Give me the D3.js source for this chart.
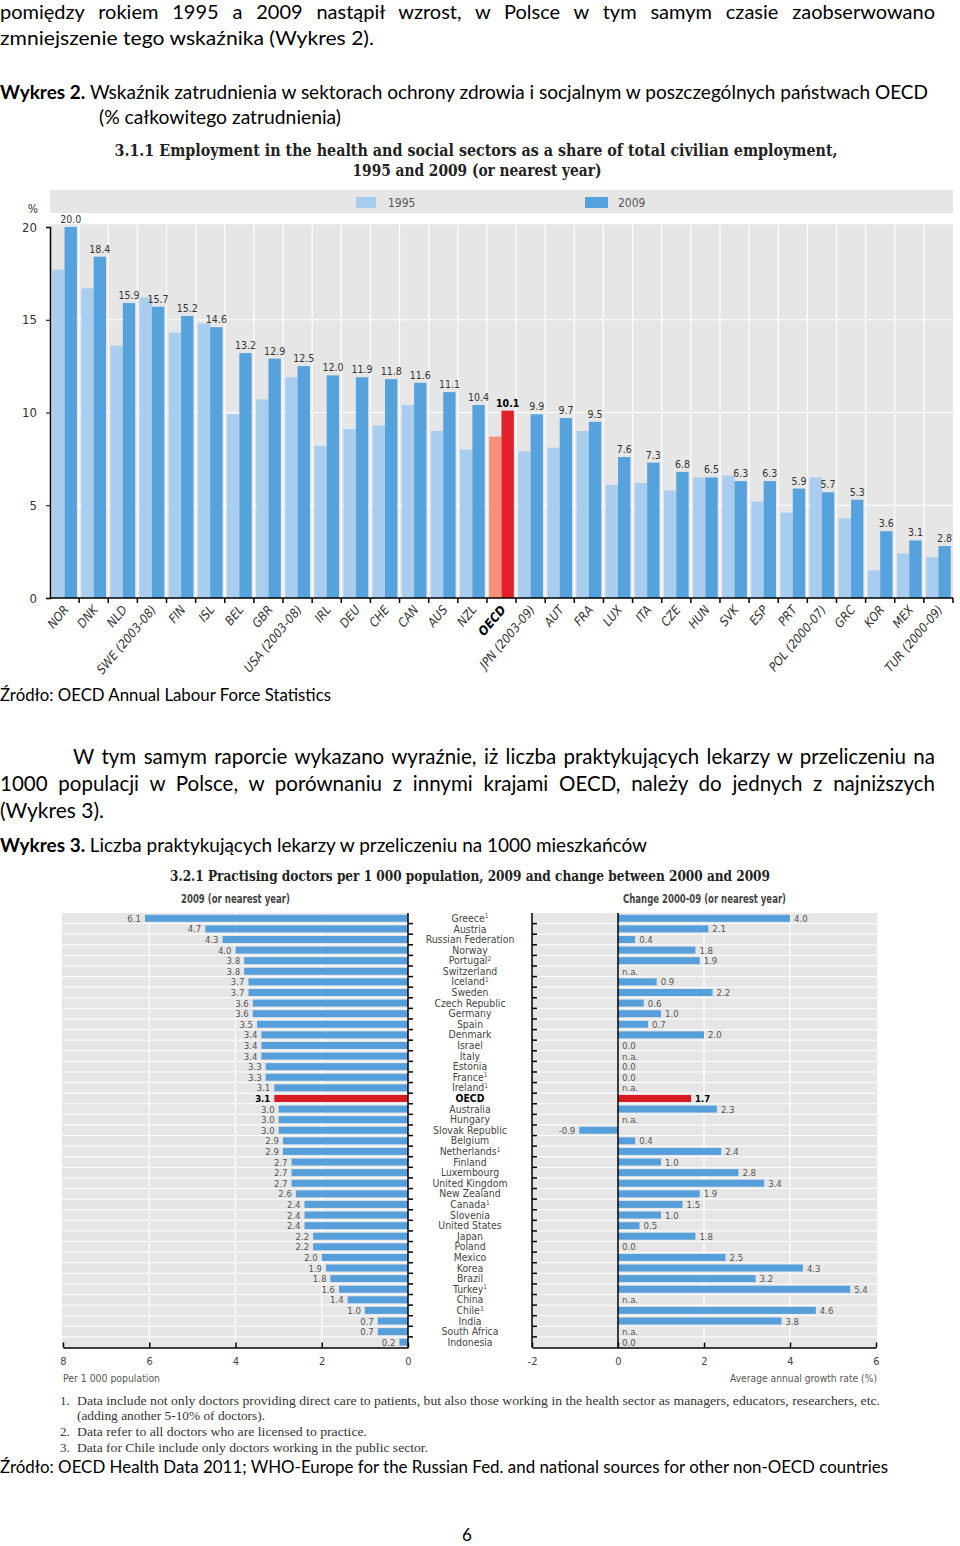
<!DOCTYPE html>
<html>
<head>
<meta charset="utf-8">
<script src="https://cdn.jsdelivr.net/npm/d3@7"></script>
<style>
  body { margin: 0; background: #fff; }
  svg { display: block; }
</style>
</head>
<body>
<svg id="page" width="960" height="1546"></svg>
<script>
// Wykres 2 data
const countries1 = ['NOR','DNK','NLD','SWE (2003-08)','FIN','ISL','BEL','GBR','USA (2003-08)','IRL','DEU','CHE','CAN','AUS','NZL','OECD','JPN (2003-09)','AUT','FRA','LUX','ITA','CZE','HUN','SVK','ESP','PRT','POL (2000-07)','GRC','KOR','MEX','TUR (2000-09)']
const emp1995 = [17.7,16.7,13.6,16.2,14.3,14.8,9.9,10.7,11.9,8.2,9.1,9.3,10.4,9.0,8.0,8.7,7.9,8.1,9.0,6.1,6.2,5.8,6.5,6.6,5.2,4.6,6.5,4.3,1.5,2.4,2.2]
const emp2009 = [20.0,18.4,15.9,15.7,15.2,14.6,13.2,12.9,12.5,12.0,11.9,11.8,11.6,11.1,10.4,10.1,9.9,9.7,9.5,7.6,7.3,6.8,6.5,6.3,6.3,5.9,5.7,5.3,3.6,3.1,2.8]
const empTicks = [0, 5, 10, 15, 20]

// Wykres 3 data
const docNames = ['Greece','Austria','Russian Federation','Norway','Portugal','Switzerland','Iceland','Sweden','Czech Republic','Germany','Spain','Denmark','Israel','Italy','Estonia','France','Ireland','OECD','Australia','Hungary','Slovak Republic','Belgium','Netherlands','Finland','Luxembourg','United Kingdom','New Zealand','Canada','Slovenia','United States','Japan','Poland','Mexico','Korea','Brazil','Turkey','China','Chile','India','South Africa','Indonesia']
const docNotes = { Greece: '1', Portugal: '2', Iceland: '1', France: '1', Ireland: '1', Netherlands: '1', Canada: '1', Turkey: '1', Chile: '3' }
const docs2009 = [6.1,4.7,4.3,4.0,3.8,3.8,3.7,3.7,3.6,3.6,3.5,3.4,3.4,3.4,3.3,3.3,3.1,3.1,3.0,3.0,3.0,2.9,2.9,2.7,2.7,2.7,2.6,2.4,2.4,2.4,2.2,2.2,2.0,1.9,1.8,1.6,1.4,1.0,0.7,0.7,0.2]
const docsGrowth = [4.0,2.1,0.4,1.8,1.9,null,0.9,2.2,0.6,1.0,0.7,2.0,0.0,null,0.0,0.0,null,1.7,2.3,null,-0.9,0.4,2.4,1.0,2.8,3.4,1.9,1.5,1.0,0.5,1.8,0.0,2.5,4.3,3.2,5.4,null,4.6,3.8,null,0.0]
const leftTicks = [8, 6, 4, 2, 0]
const rightTicks = [-2, 0, 2, 4, 6]

const body = "Lato, 'Open Sans', sans-serif"
const narrow = "'Liberation Sans Narrow', 'DejaVu Sans Condensed', 'Arial Narrow', sans-serif"
const serif = "'DejaVu Serif Condensed', 'Liberation Serif', serif"

const svg = d3.select('#page')

// text helper: parts = string or [[str, bold], ...]; w = width to fit
function put(str, x, y, o) {
  const t = svg.append('text').attr('x', x).attr('y', y)
    .style('font-family', o.font || body).style('font-size', o.size + 'px')
    .attr('fill', o.fill || '#000').attr('text-anchor', o.anchor || 'start')
  if (o.bold) t.style('font-weight', 'bold')
  if (o.italic) t.style('font-style', 'italic')
  const parts = typeof str === 'string' ? [[str, false]] : str
  parts.forEach(p => t.append('tspan').text(p[0]).style('font-weight', p[1] ? 'bold' : null))
  if (o.w) {
    const full = parts.map(p => p[0]).join('')
    const n = t.node().getComputedTextLength()
    const sp = (full.match(/ /g) || []).length
    if (o.justify && n < o.w && sp) t.style('word-spacing', (o.w - n) / sp + 'px')
    else t.attr('textLength', o.w).attr('lengthAdjust', 'spacingAndGlyphs')
  }
  return t
}

// page text
put('pomiędzy rokiem 1995 a 2009 nastąpił wzrost, w Polsce w tym samym czasie zaobserwowano', 0, 19, { size: 20, w: 935, justify: true })
put('zmniejszenie tego wskaźnika (Wykres 2).', 0, 45, { size: 20, w: 374 })
put([['Wykres 2. ', true], ['Wskaźnik zatrudnienia w sektorach ochrony zdrowia i socjalnym w poszczególnych państwach OECD', false]], 0, 99, { size: 19, w: 928 })
put('(% całkowitego zatrudnienia)', 99, 124, { size: 19, w: 242 })
put('Źródło: OECD Annual Labour Force Statistics', 0, 701, { size: 17.5, w: 331 })
put('W tym samym raporcie wykazano wyraźnie, iż liczba praktykujących lekarzy w przeliczeniu na', 73, 764, { size: 20.5, w: 862, justify: true })
put('1000 populacji w Polsce, w porównaniu z innymi krajami OECD, należy do jednych z najniższych', 0, 791, { size: 20.5, w: 935, justify: true })
put('(Wykres 3).', 0, 818, { size: 20.5, w: 104 })
put([['Wykres 3. ', true], ['Liczba praktykujących lekarzy w przeliczeniu na 1000 mieszkańców', false]], 0, 852, { size: 19, w: 647 })
put('Źródło: OECD Health Data 2011; WHO-Europe for the Russian Fed. and national sources for other non-OECD countries', 0, 1473, { size: 17.5, w: 888 })
put('6', 467, 1541, { size: 17, anchor: 'middle' })

// ---------- Wykres 2 ----------
put('3.1.1 Employment in the health and social sectors as a share of total civilian employment,', 476, 156, { font: serif, size: 16, bold: true, anchor: 'middle', w: 723, fill: '#222' })
put('1995 and 2009 (or nearest year)', 477, 176, { font: serif, size: 16, bold: true, anchor: 'middle', w: 249, fill: '#222' })

const c1995 = d => d === 'OECD' ? '#f5917b' : '#a9cdee'
const c2009 = d => d === 'OECD' ? '#e1202a' : '#55a2dd'

svg.append('rect').attr('x', 50).attr('y', 190).attr('width', 903).attr('height', 23).attr('fill', '#e6e6e6')
svg.append('rect').attr('x', 356).attr('y', 197).attr('width', 20).attr('height', 11).attr('fill', '#a9cdee')
put('1995', 388, 207, { font: narrow, size: 12, fill: '#555' })
svg.append('rect').attr('x', 585).attr('y', 197).attr('width', 23).attr('height', 11).attr('fill', '#55a2dd')
put('2009', 618, 207, { font: narrow, size: 12, fill: '#555' })

const x1 = d3.scaleBand().domain(countries1).range([50, 953])
const sub = d3.scaleBand().domain(['1995', '2009']).range([0, x1.bandwidth()]).paddingOuter(0.18)
const y1 = d3.scaleLinear().domain([0, 20]).range([598, 227])

svg.append('rect').attr('x', 50).attr('y', y1(20.15)).attr('width', 903).attr('height', y1(0) - y1(20.15)).attr('fill', '#e6e6e6')
svg.append('g').selectAll('line').data([5, 10, 15]).join('line')
  .attr('x1', 50).attr('x2', 953).attr('y1', d => y1(d)).attr('y2', d => y1(d))
  .attr('stroke', '#fff').attr('stroke-width', 1.2)
svg.append('g').selectAll('line').data(countries1.slice(1)).join('line')
  .attr('x1', d => x1(d)).attr('x2', d => x1(d)).attr('y1', y1(20.15)).attr('y2', y1(0))
  .attr('stroke', '#fff').attr('stroke-width', 1.2)

const groups = svg.append('g').selectAll('g').data(countries1).join('g')
  .attr('transform', d => 'translate(' + x1(d) + ',0)')
groups.append('rect')
  .attr('x', sub('1995')).attr('width', sub.bandwidth())
  .attr('y', (d, i) => y1(emp1995[i])).attr('height', (d, i) => y1(0) - y1(emp1995[i]))
  .attr('fill', c1995)
groups.append('rect')
  .attr('x', sub('2009')).attr('width', sub.bandwidth())
  .attr('y', (d, i) => y1(emp2009[i])).attr('height', (d, i) => y1(0) - y1(emp2009[i]))
  .attr('fill', c2009)
groups.append('text')
  .attr('x', sub('2009') + sub.bandwidth() / 2).attr('y', (d, i) => y1(emp2009[i]) - 4)
  .attr('text-anchor', 'middle')
  .style('font-family', narrow).style('font-size', '10.5px')
  .style('font-weight', d => d === 'OECD' ? 'bold' : null)
  .attr('fill', d => d === 'OECD' ? '#000' : '#333')
  .text((d, i) => d3.format('.1f')(emp2009[i]))

const yAxis = svg.append('g').attr('transform', 'translate(50,0)')
  .call(d3.axisLeft(y1).tickValues(empTicks).tickSize(4).tickPadding(9))
yAxis.select('.domain').attr('stroke', '#000').attr('stroke-width', 1.5)
yAxis.selectAll('text').style('font-family', narrow).style('font-size', '13px').attr('fill', '#333')
put('%', 33, 213, { font: narrow, size: 12, fill: '#333', anchor: 'middle' })

svg.append('line').attr('x1', 50).attr('x2', 953).attr('y1', y1(0)).attr('y2', y1(0)).attr('stroke', '#000').attr('stroke-width', 1.5)
svg.append('g').selectAll('line').data(countries1.slice(1).map(d => x1(d)).concat([953])).join('line')
  .attr('x1', d => d).attr('x2', d => d).attr('y1', y1(0)).attr('y2', y1(0) + 5)
  .attr('stroke', '#000').attr('stroke-width', 1.5)

svg.append('g').selectAll('text').data(countries1).join('text')
  .attr('transform', d => 'translate(' + (x1(d) + x1.bandwidth() / 2 + 5) + ',610) rotate(-50)')
  .attr('text-anchor', 'end')
  .style('font-family', narrow).style('font-size', '12.5px').style('font-style', 'italic')
  .style('font-weight', d => d === 'OECD' ? 'bold' : null)
  .attr('fill', d => d === 'OECD' ? '#000' : '#333')
  .text(d => d)

// ---------- Wykres 3 ----------
put('3.2.1 Practising doctors per 1 000 population, 2009 and change between 2000 and 2009', 470, 881, { font: serif, size: 15, bold: true, anchor: 'middle', w: 600, fill: '#222' })
put('2009 (or nearest year)', 181, 903, { font: narrow, size: 12, bold: true, w: 109, fill: '#444' })
put('Change 2000-09 (or nearest year)', 623, 903, { font: narrow, size: 12, bold: true, w: 163, fill: '#444' })

const yb = d3.scaleBand().domain(docNames).range([913, 1347.5])
const barH = yb.bandwidth() * 0.66
const xl = d3.scaleLinear().domain([8, 0]).range([63, 408])
const xr = d3.scaleLinear().domain([-2, 6]).range([532, 876])
const f1 = v => d3.format('.1f')(v).replace('−', '-')

svg.append('rect').attr('x', 62).attr('y', 913).attr('width', 346).attr('height', 434.5).attr('fill', '#e6e6e6')
svg.append('rect').attr('x', 532).attr('y', 913).attr('width', 345).attr('height', 434.5).attr('fill', '#e6e6e6')
const rowLines = svg.append('g').selectAll('g').data(docNames.slice(1)).join('g')
rowLines.append('line').attr('x1', 62).attr('x2', 408).attr('y1', d => yb(d)).attr('y2', d => yb(d)).attr('stroke', '#fff').attr('stroke-width', 1)
rowLines.append('line').attr('x1', 532).attr('x2', 877).attr('y1', d => yb(d)).attr('y2', d => yb(d)).attr('stroke', '#fff').attr('stroke-width', 1)
svg.append('g').selectAll('line').data([2, 4, 6]).join('line')
  .attr('x1', d => xl(d)).attr('x2', d => xl(d)).attr('y1', 913).attr('y2', 1347)
  .attr('stroke', '#fff').attr('stroke-width', 1.2)
svg.append('g').selectAll('line').data([2, 4]).join('line')
  .attr('x1', d => xr(d)).attr('x2', d => xr(d)).attr('y1', 913).attr('y2', 1347)
  .attr('stroke', '#fff').attr('stroke-width', 1.2)

const rows = svg.append('g').selectAll('g').data(docNames).join('g')
  .attr('transform', d => 'translate(0,' + (yb(d) + yb.bandwidth() / 2) + ')')
const barFill = d => d === 'OECD' ? '#d8191f' : '#579fdb'
const numStyle = s => s.style('font-family', narrow).style('font-size', '9.5px')
  .style('font-weight', d => d === 'OECD' ? 'bold' : null)
  .attr('fill', d => d === 'OECD' ? '#000' : '#555')

rows.append('rect')
  .attr('x', (d, i) => xl(docs2009[i])).attr('width', (d, i) => xl(0) - xl(docs2009[i]))
  .attr('y', -barH / 2).attr('height', barH).attr('fill', barFill)
rows.append('text')
  .attr('x', (d, i) => xl(docs2009[i]) - 4).attr('y', 3.5).attr('text-anchor', 'end')
  .call(numStyle).text((d, i) => f1(docs2009[i]))

rows.filter((d, i) => docsGrowth[i] !== null).append('rect')
  .attr('x', d => xr(Math.min(0, docsGrowth[docNames.indexOf(d)])))
  .attr('width', d => Math.abs(xr(docsGrowth[docNames.indexOf(d)]) - xr(0)))
  .attr('y', -barH / 2).attr('height', barH).attr('fill', barFill)
rows.append('text')
  .attr('x', (d, i) => docsGrowth[i] === null ? xr(0) + 4 : docsGrowth[i] < 0 ? xr(docsGrowth[i]) - 4 : xr(docsGrowth[i]) + 4)
  .attr('y', 3.5)
  .attr('text-anchor', (d, i) => docsGrowth[i] !== null && docsGrowth[i] < 0 ? 'end' : 'start')
  .call(numStyle).text((d, i) => docsGrowth[i] === null ? 'n.a.' : f1(docsGrowth[i]))

const names = rows.append('text').attr('x', 470).attr('y', 3.6).attr('text-anchor', 'middle')
  .style('font-family', narrow).style('font-size', '10.4px')
  .style('font-weight', d => d === 'OECD' ? 'bold' : null)
  .attr('fill', d => d === 'OECD' ? '#000' : '#444')
names.append('tspan').text(d => d)
names.filter(d => docNotes[d]).append('tspan').attr('dy', -3.5).style('font-size', '6.5px').text(d => docNotes[d])

// axes
function vAxis(x, dir) {
  svg.append('line').attr('x1', x).attr('x2', x).attr('y1', 913).attr('y2', 1347.5).attr('stroke', '#000').attr('stroke-width', 1.5)
  svg.append('g').selectAll('line').data(docNames.slice(1)).join('line')
    .attr('x1', x).attr('x2', x + dir * 5).attr('y1', d => yb(d)).attr('y2', d => yb(d))
    .attr('stroke', '#000').attr('stroke-width', 1.5)
}
vAxis(408, 1)
vAxis(532, 1)
svg.append('line').attr('x1', xr(0)).attr('x2', xr(0)).attr('y1', 913).attr('y2', 1347.5).attr('stroke', '#000').attr('stroke-width', 1.5)

function hAxis(scale, ticks) {
  const g = svg.append('g').attr('transform', 'translate(0,1347.5)')
    .call(d3.axisBottom(scale).tickValues(ticks).tickFormat(d => String(d)).tickSizeInner(-5).tickSizeOuter(0).tickPadding(10))
  g.select('.domain').attr('stroke', '#000').attr('stroke-width', 1.5)
  g.selectAll('line').attr('stroke', '#000').attr('stroke-width', 1.5)
  g.selectAll('text').style('font-family', narrow).style('font-size', '11px').attr('fill', '#444')
}
hAxis(xl, leftTicks)
hAxis(xr, rightTicks)

put('Per 1 000 population', 63, 1382, { font: narrow, size: 11, fill: '#555', w: 97 })
put('Average annual growth rate (%)', 877, 1382, { font: narrow, size: 11, fill: '#555', anchor: 'end', w: 147 })

const fn = "'Liberation Serif', serif"
put('1.', 60, 1405, { font: fn, size: 13, fill: '#333' })
put('Data include not only doctors providing direct care to patients, but also those working in the health sector as managers, educators, researchers, etc.', 77, 1405, { font: fn, size: 13, fill: '#333', w: 803 })
put('(adding another 5-10% of doctors).', 77, 1420, { font: fn, size: 13, fill: '#333', w: 188 })
put('2.', 60, 1436, { font: fn, size: 13, fill: '#333' })
put('Data refer to all doctors who are licensed to practice.', 77, 1436, { font: fn, size: 13, fill: '#333', w: 290 })
put('3.', 60, 1452, { font: fn, size: 13, fill: '#333' })
put('Data for Chile include only doctors working in the public sector.', 77, 1452, { font: fn, size: 13, fill: '#333', w: 351 })
</script>
</body>
</html>
